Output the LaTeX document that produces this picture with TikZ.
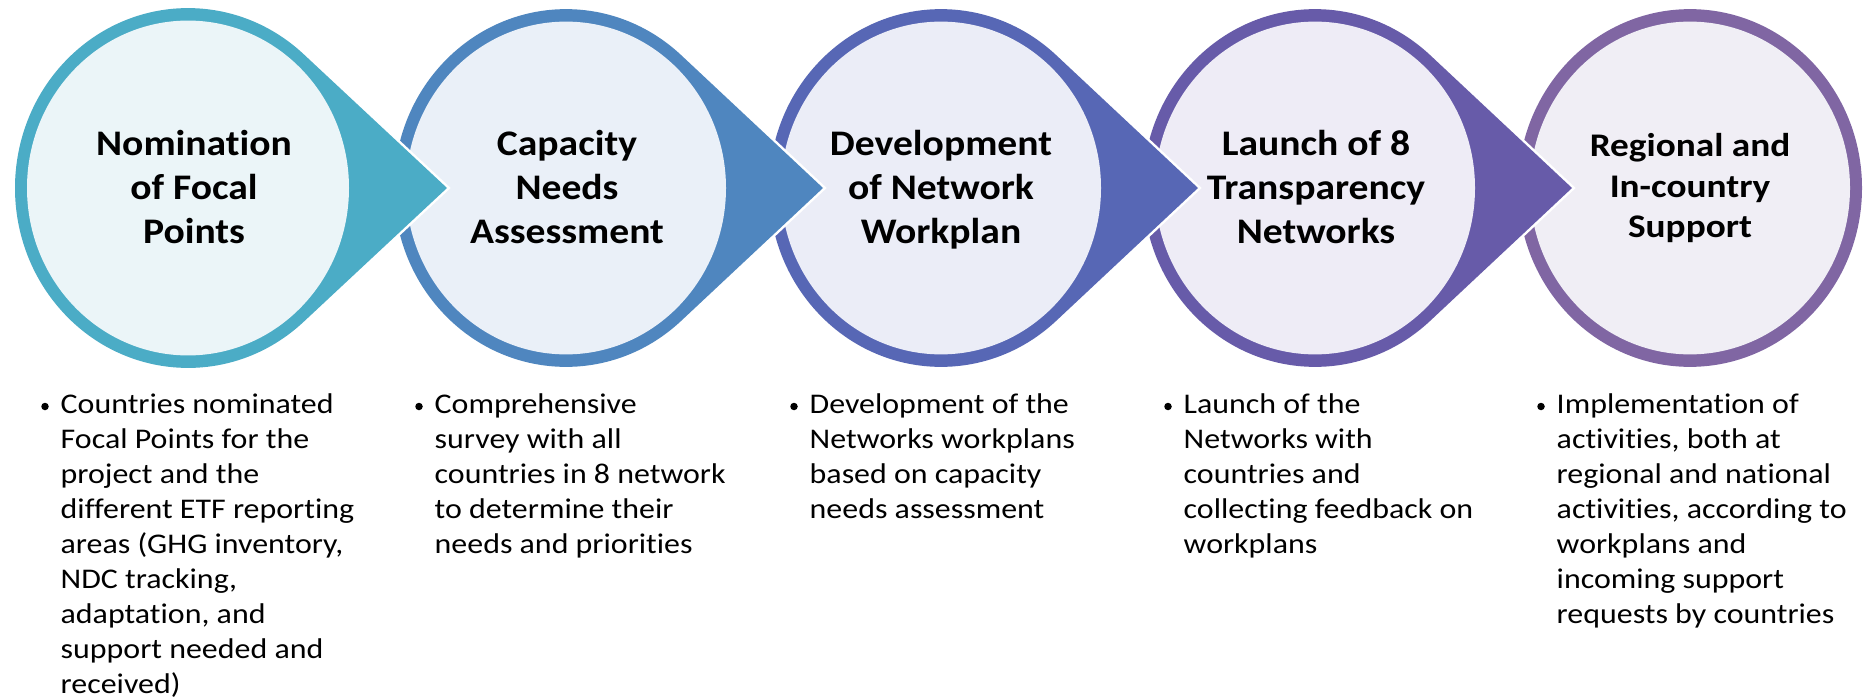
\documentclass[tikz,border=0pt]{standalone}
\usepackage{fontspec}
\setmainfont{Carlito}[Ligatures=NoCommon]
\newfontfamily\ttlfont{Carlito}[FakeStretch=1.10, Ligatures=NoCommon]
\newfontfamily\ttlfontb{Carlito}[FakeStretch=1.13, Ligatures=NoCommon]
\newfontfamily\bulfont{Carlito}[FakeStretch=1.12, Ligatures=NoCommon]
\definecolor{ringA}{HTML}{4BACC6}\definecolor{fillA}{HTML}{EBF5F8}
\definecolor{ringB}{HTML}{4F86BF}\definecolor{fillB}{HTML}{EAF0F8}
\definecolor{ringC}{HTML}{5767B5}\definecolor{fillC}{HTML}{EBEDF7}
\definecolor{ringD}{HTML}{675BA9}\definecolor{fillD}{HTML}{EEECF6}
\definecolor{ringE}{HTML}{8066A3}\definecolor{fillE}{HTML}{F0EEF5}
\begin{document}
\begin{tikzpicture}[x=1pt,y=-1pt]
\useasboundingbox (0,0) rectangle (1865,698);
\tikzset{
  ttl/.style={inner sep=0, anchor=base, font=\ttlfont\fontsize{36}{44}\selectfont\bfseries},
  ttlsmall/.style={inner sep=0, anchor=base, font=\ttlfontb\fontsize{33}{40.5}\selectfont\bfseries},
  bul/.style={inner sep=0, anchor=base west, font=\bulfont\fontsize{28.5}{35}\selectfont},
  bdot/.style={circle, fill=black, inner sep=0, minimum size=7.5pt}
}
% stage 5 (plain ring)
\begin{scope}[shift={(1690,188)}, yscale=1.04]
  \fill[ringE] (0,0) circle[radius=172];
  \fill[fillE] (0,0) circle[radius=160];
\end{scope}
% stage 4
\begin{scope}[shift={(1315,188)}, yscale=1.04]
  \draw[white, line width=5pt, line join=miter] (257,0) -- (48:172) arc[start angle=48, end angle=312, radius=172] -- cycle;
  \fill[ringD] (257,0) -- (48:172) arc[start angle=48, end angle=312, radius=172] -- cycle;
  \fill[fillD] (0,0) circle[radius=160];
\end{scope}
% stage 3
\begin{scope}[shift={(941,188)}, yscale=1.04]
  \draw[white, line width=5pt, line join=miter] (257,0) -- (48:172) arc[start angle=48, end angle=312, radius=172] -- cycle;
  \fill[ringC] (257,0) -- (48:172) arc[start angle=48, end angle=312, radius=172] -- cycle;
  \fill[fillC] (0,0) circle[radius=160];
\end{scope}
% stage 2
\begin{scope}[shift={(566,188)}, yscale=1.04]
  \draw[white, line width=5pt, line join=miter] (257,0) -- (48:172) arc[start angle=48, end angle=312, radius=172] -- cycle;
  \fill[ringB] (257,0) -- (48:172) arc[start angle=48, end angle=312, radius=172] -- cycle;
  \fill[fillB] (0,0) circle[radius=160];
\end{scope}
% stage 1
\begin{scope}[shift={(188,188)}, yscale=1.04]
  \draw[white, line width=5pt, line join=miter] (259,0) -- (48:173) arc[start angle=48, end angle=312, radius=173] -- cycle;
  \fill[ringA] (259,0) -- (48:173) arc[start angle=48, end angle=312, radius=173] -- cycle;
  \fill[fillA] (0,0) circle[radius=161];
\end{scope}

% titles
\node[ttl] (t1) at (194,155) {\parbox[t]{330pt}{\centering Nomination\\of Focal\\Points}};
\node[ttl] (t2) at (567,155) {\parbox[t]{330pt}{\centering Capacity\\Needs\\Assessment}};
\node[ttl] (t3) at (941,155) {\parbox[t]{330pt}{\centering Development\\of Network\\Workplan}};
\node[ttl] (t4) at (1316,155) {\parbox[t]{330pt}{\centering Launch of 8\\Transparency\\Networks}};
\node[ttlsmall] (t5) at (1690,157) {\parbox[t]{330pt}{\centering Regional and\\In-country\\Support}};

% bullets
\node[bdot] (d1) at (45,406.5) {};
\node[bul] (b1) at (60.5,413) {\parbox[t]{360pt}{\raggedright Countries nominated\\Focal Points for the\\project and the\\different ETF reporting\\areas (GHG inventory,\\NDC tracking,\\adaptation, and\\support needed and\\received)}};
\node[bdot] (d2) at (419,406.5) {};
\node[bul] (b2) at (434.5,413) {\parbox[t]{360pt}{\raggedright Comprehensive\\survey with all\\countries in 8 network\\to determine their\\needs and priorities}};
\node[bdot] (d3) at (794,406.5) {};
\node[bul] (b3) at (809.5,413) {\parbox[t]{360pt}{\raggedright Development of the\\Networks workplans\\based on capacity\\needs assessment}};
\node[bdot] (d4) at (1168,406.5) {};
\node[bul] (b4) at (1183.5,413) {\parbox[t]{360pt}{\raggedright Launch of the\\Networks with\\countries and\\collecting feedback on\\workplans}};
\node[bdot] (d5) at (1541,406.5) {};
\node[bul] (b5) at (1556.5,413) {\parbox[t]{300pt}{\raggedright Implementation of\\activities, both at\\regional and national\\activities, according to\\workplans and\\incoming support\\requests by countries}};
\end{tikzpicture}
\end{document}
